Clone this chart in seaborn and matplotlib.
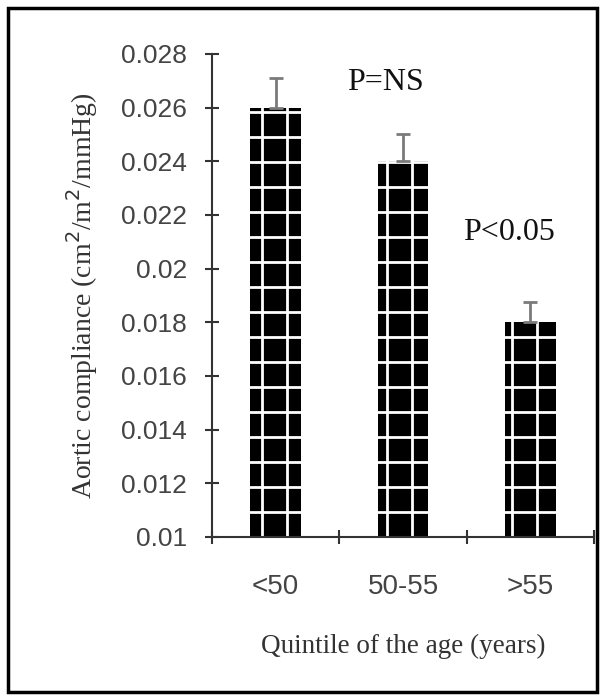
import matplotlib
matplotlib.use("Agg")
import matplotlib.pyplot as plt
import seaborn as sns
import pandas as pd
from matplotlib.patches import Rectangle
from matplotlib.backend_bases import GraphicsContextBase
from matplotlib.path import Path

categories = ["<50", "50-55", ">55"]
compliance = [0.026, 0.024, 0.018]
error_upper = [0.0011, 0.0010, 0.00074]
yticks = [0.01, 0.012, 0.014, 0.016, 0.018, 0.02, 0.022, 0.024, 0.026, 0.028]
annotations = ["P=NS", "P<0.05"]

# sparser hatch grid (wider cells, like the reference)
def _sparse_hatch_path(self, density=6.0):
    hatch = self.get_hatch()
    if hatch is None:
        return None
    return Path.hatch(hatch, 4)
GraphicsContextBase.get_hatch_path = _sparse_hatch_path

sns.set_theme(style="white")
plt.rcParams["hatch.color"] = "white"
plt.rcParams["hatch.linewidth"] = 2.0

fig = plt.figure(figsize=(6.05, 7.0), dpi=100)
ax = fig.add_axes([0.3504, 0.2329, 0.6314, 0.69])

df = pd.DataFrame({"age": categories, "value": compliance})
sns.barplot(data=df, x="age", y="value", color="black", saturation=1,
            width=0.4, errorbar=None, ax=ax)
for p in ax.patches:
    p.set_facecolor("black")
    p.set_edgecolor("white")
    p.set_linewidth(0)
    p.set_hatch("+")

ax.errorbar(range(len(categories)), compliance,
            yerr=[[0] * len(categories), error_upper],
            fmt="none", ecolor="#7a7a7a", elinewidth=2, capsize=5,
            capthick=2, zorder=3)

ax.set_ylim(0.01, 0.028)
ax.set_xlim(-0.5, 2.5)
ax.set_yticks(yticks)
ax.set_yticklabels([f"{v:g}" for v in yticks], family="Liberation Sans",
                   fontsize=19, color="#444444")
ax.set_xticks(range(len(categories)))
ax.set_xticklabels(categories, family="Liberation Sans", fontsize=20,
                   color="#444444")
ax.set_xticks([-0.5, 0.5, 1.5, 2.5], minor=True)
ax.tick_params(axis="y", which="major", direction="inout", length=10,
               width=1.5, color="#333333", pad=13, left=True)
ax.tick_params(axis="x", which="major", length=0, pad=27)
ax.tick_params(axis="x", which="minor", direction="inout", length=10,
               width=1.5, color="#333333", bottom=True)

for side in ["top", "right"]:
    ax.spines[side].set_visible(False)
for side in ["left", "bottom"]:
    ax.spines[side].set_color("#333333")
    ax.spines[side].set_linewidth(1.5)

ax.set_xlabel("Quintile of the age (years)", family="Liberation Serif",
              fontsize=19.5, color="#333333", labelpad=24)
ax.set_ylabel("Aortic compliance (cm$^2$/m$^2$/mmHg)", family="Liberation Serif",
              fontsize=20, color="#333333", labelpad=15)

ax.text(0.86, 0.02695, annotations[0], family="Liberation Serif", fontsize=23,
        ha="center", va="center", color="#111111")
ax.text(1.83, 0.02133, annotations[1], family="Liberation Serif", fontsize=23,
        ha="center", va="center", color="#111111")

fig.patches.append(Rectangle((0.013, 0.011), 0.974, 0.977, transform=fig.transFigure,
                             fill=False, edgecolor="black", linewidth=2.5))

fig.savefig("out.png", dpi=100)
